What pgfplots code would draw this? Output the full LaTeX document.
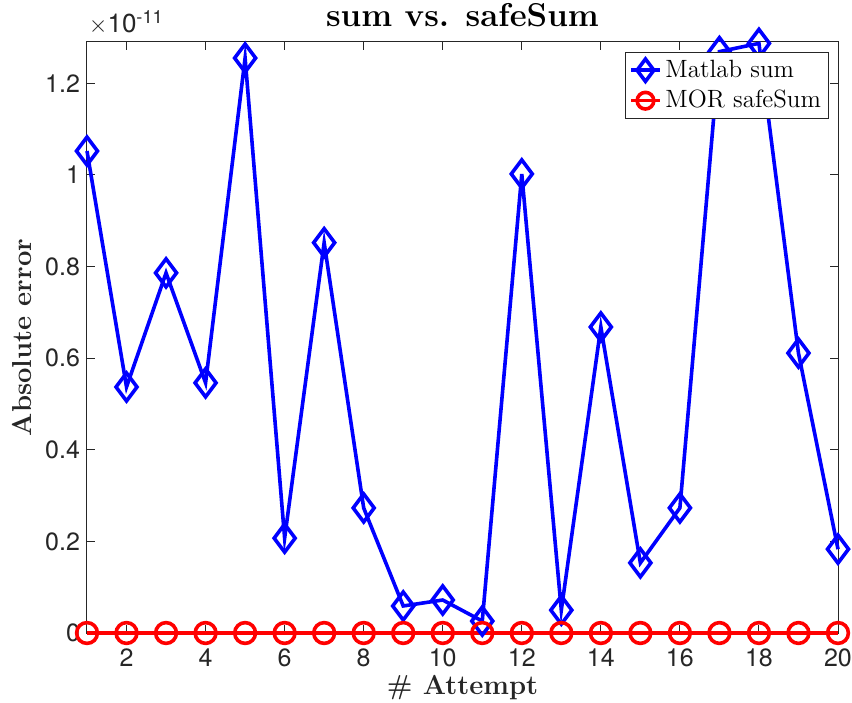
\documentclass[border=0pt]{standalone}
\usepackage{pgfplots}
\pgfplotsset{compat=1.18}
\usepackage{fontspec}
\setsansfont{TeX Gyre Heros}
\definecolor{axgray}{RGB}{38,38,38}
\begin{document}
\begin{tikzpicture}
\begin{axis}[
  scale only axis,
  width=375.5pt, height=295.5pt,
  xmin=1, xmax=20, ymin=0, ymax=1.29e-11,
  xtick={2,4,...,20},
  ytick={0,0.2e-11,0.4e-11,0.6e-11,0.8e-11,1.0e-11,1.2e-11},
  scaled y ticks=base 10:11,
  ytick scale label code/.code={},
  yticklabel style={/pgf/number format/fixed,/pgf/number format/precision=1},
  xticklabel style={inner sep=0pt, yshift=-7.5pt},
  tick align=inside,
  major tick length=4pt,
  axis line style={axgray, line width=0.5pt},
  tick style={axgray, line width=0.5pt},
  tick label style={font=\fontsize{12.5}{14}\sffamily, text=axgray},
  /pgf/number format/assume math mode=true,
  clip=false,
  every axis title shift=0pt,
  title={\textbf{sum vs. safeSum}},
  title style={font=\fontsize{16.5}{18}\selectfont, inner sep=0pt, at={(axis description cs:0.5,1.0254)}, anchor=base},
  xlabel={\textbf{\# Attempt}},
  ylabel={\textbf{Absolute error}},
  every axis x label/.style={at={(axis description cs:0.5,-0.093)}, anchor=center, inner sep=0pt, font=\fontsize{13.7}{15}\selectfont, text=axgray},
  every axis y label/.style={at={(axis description cs:-0.0865,0.5)}, rotate=90, anchor=center, inner sep=0pt, font=\fontsize{13.7}{15}\selectfont, text=axgray},
  legend style={at={(axis description cs:0.988,0.983)}, anchor=north east, outer sep=0pt, font=\fontsize{12.5}{14}\selectfont, draw=axgray, line width=0.5pt, inner sep=2pt, row sep=1pt, cells={anchor=west}},
  legend image code/.code={\draw[mark repeat=2,mark phase=2, mark size=0.8*\pgfplotmarksize] plot coordinates {(0cm,0cm)(0.25cm,0cm)(0.5cm,0cm)};},
]
\addplot[blue, line width=1.8pt, mark=diamond, mark size=7pt, mark options={solid, line width=1.8pt}] coordinates {
(1,1.052e-11) (2,0.537e-11) (3,0.786e-11) (4,0.546e-11) (5,1.255e-11)
(6,0.207e-11) (7,0.852e-11) (8,0.273e-11) (9,0.059e-11) (10,0.072e-11)
(11,0.026e-11) (12,1.002e-11) (13,0.050e-11) (14,0.668e-11) (15,0.153e-11)
(16,0.273e-11) (17,1.269e-11) (18,1.287e-11) (19,0.611e-11) (20,0.183e-11)
};
\addlegendentry{Matlab sum}
\addplot[red, line width=1.8pt, mark=o, mark size=5.2pt, mark options={solid, line width=1.8pt}] coordinates {
(1,0) (2,0) (3,0) (4,0) (5,0) (6,0) (7,0) (8,0) (9,0) (10,0)
(11,0) (12,0) (13,0) (14,0) (15,0) (16,0) (17,0) (18,0) (19,0) (20,0)
};
\addlegendentry{MOR safeSum}
\node[anchor=south west, inner sep=0pt, font=\fontsize{13}{14}\sffamily, text=axgray] at (rel axis cs:0.002,1.012) {$\times$10\textsuperscript{-11}};
\end{axis}
\path (current axis.south west) ++(-43.5pt,-34.5pt) coordinate (bbA);
\path (current axis.north east) ++(7pt,21pt) coordinate (bbB);
\path (bbA) rectangle (bbB);
\end{tikzpicture}
\end{document}
